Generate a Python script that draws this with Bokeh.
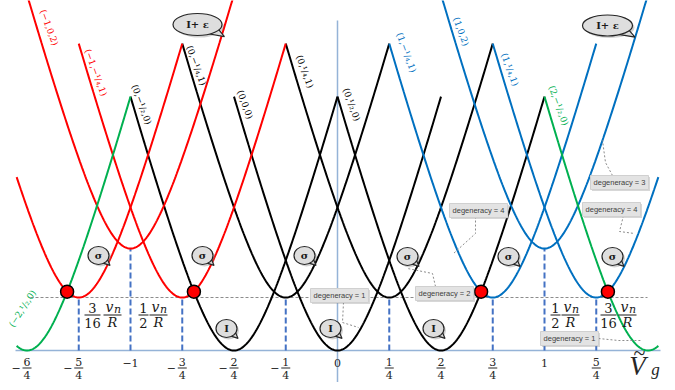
import numpy as np
from bokeh.plotting import figure
from bokeh.models import Range1d
from bokeh.core.properties import value
from bokeh.embed import file_html
from bokeh.resources import INLINE

# ---------------- data ----------------
state_labels = ["(−2,¹/₂,0)", "", "(−1,0,2)", "(−1,−¹/₄,1)", "(0,−¹/₂,0)",
                "(0,−¹/₄,1)", "(0,0,0)", "(0,¹/₄,1)", "(0,¹/₂,0)",
                "(1,−¹/₄,1)", "(1,0,2)", "(1,¹/₄,1)", "(2,−¹/₂,0)"]
state_centers = [-1.5, -1.25, -1.0, -0.75, -0.5, -0.25, 0.0, 0.25, 0.5, 0.75, 1.0, 1.25, 1.5]
state_offsets = [0, 53, 102, 53, 0, 53, 0, 53, 0, 53, 102, 53, 0]
state_family = ["green", "red", "red", "red", "black", "black", "black",
                "black", "black", "blue", "blue", "blue", "green"]
curve_half_span = 0.5
vg_visible = (-1.55, 1.55)

tick_values = [-1.5, -1.25, -1.0, -0.75, -0.5, -0.25, 0.0, 0.25, 0.5, 0.75, 1.0, 1.25]
tick_labels = ["−6/4", "−5/4", "−1", "−3/4", "−2/4", "−1/4", "0", "1/4", "2/4", "3/4", "1", "5/4"]

drop_lines = [-1.25, -1.0, -0.75, -0.25, 0.25, 0.75, 1.0, 1.25]
crossing_pairs = [(0, 1), (4, 3), (8, 9), (12, 11)]

gap_labels = [("3", "16"), ("1", "2"), ("1", "2"), ("3", "16")]
degeneracy_texts = ["degeneracy = 1", "degeneracy = 2", "degeneracy = 4",
                    "degeneracy = 3", "degeneracy = 4", "degeneracy = 1"]

# ---------------- layout helpers (picture pixels -> data) ----------------
X0_PX, SX, Y0_PX = 337.0, 207.0, 350.0
W, H = 667, 382
def px(xp): return (xp - X0_PX) / SX
def py(yp): return Y0_PX - yp

COL = {"red": "#FF0000", "blue": "#0070C0", "black": "#000000", "green": "#00B050"}
SERIF = value("DejaVu Serif")

def energy(x, c, o):
    u = (x - c) / 0.2
    return o + 150.0 * (np.sqrt(1 + u * u) - 1)

p = figure(width=W, height=H, output_backend="svg", toolbar_location=None,
           x_range=Range1d(px(0), px(W)), y_range=Range1d(py(H), py(0)),
           min_border=0, background_fill_color="white", border_fill_color="white")
p.axis.visible = False
p.grid.visible = False
p.outline_line_color = None

# axes lines
p.line([px(15), px(660)], [0, 0], line_color="#95B3D7", line_width=1.5)
p.line([0, 0], [py(390), py(20)], line_color="#95B3D7", line_width=1.5)

# horizontal dashed level
p.line([px(30), px(647)], [53, 53], line_color="#8c8c8c", line_width=1, line_dash="3 2")

# vertical dashed drop lines
for xd in drop_lines:
    top = state_offsets[state_centers.index(xd)]
    p.line([xd, xd], [0, top], line_color="#4472C4", line_width=2, line_dash="6 3")

# curves
order = ["black", "red", "blue", "green"]
for fam in order:
    for c, o, f in zip(state_centers, state_offsets, state_family):
        if f != fam:
            continue
        lo = max(c - curve_half_span, vg_visible[0])
        hi = min(c + curve_half_span, vg_visible[1])
        xs = np.linspace(lo, hi, 200)
        p.line(xs, energy(xs, c, o), line_color=COL[f], line_width=2)

# crossing points
def cross(i, j):
    a, b = sorted([state_centers[i], state_centers[j]])
    g = lambda x: energy(x, state_centers[i], state_offsets[i]) - energy(x, state_centers[j], state_offsets[j])
    for _ in range(60):
        m = 0.5 * (a + b)
        if np.sign(g(a)) == np.sign(g(m)):
            a = m
        else:
            b = m
    xm = 0.5 * (a + b)
    return xm, energy(xm, state_centers[i], state_offsets[i])

cx, cy = zip(*[cross(i, j) for i, j in crossing_pairs])
p.scatter(list(cx), list(cy), size=13, fill_color="#FF0000", line_color="#000000", line_width=1.5)

# curve labels (rotated along left branches)
label_off = {2: (22, 33), 3: (17, 29), 4: (11, 8), 5: (14, 22), 6: (11, 8), 7: (19, 28),
             8: (14, 8), 9: (17, 9), 10: (20, 37), 11: (17, 26), 12: (14, 9)}
for i, (dxp, dyp) in label_off.items():
    c, o = state_centers[i], state_offsets[i]
    lx = c - curve_half_span
    ly = energy(lx, c, o)
    p.text([lx + dxp / SX], [ly - dyp], text=[state_labels[i]], angle=-1.22,
           text_color=COL[state_family[i]], text_font=SERIF, text_font_size="9px",
           text_align="center", text_baseline="middle")
p.text([px(22)], [py(308)], text=[state_labels[0]], angle=1.0,
       text_color=COL["green"], text_font=SERIF, text_font_size="9px",
       text_align="center", text_baseline="middle")

# tick labels
for t, lab in zip(tick_values, tick_labels):
    neg = lab.startswith("−")
    body = lab[1:] if neg else lab
    if "/" in body:
        num, den = body.split("/")
        p.text([t], [py(361)], text=[num], text_font=SERIF, text_font_size="11px",
               text_color="#262626", text_align="center", text_baseline="middle")
        p.text([t], [py(374)], text=[den], text_font=SERIF, text_font_size="11px",
               text_color="#262626", text_align="center", text_baseline="middle")
        p.line([t - 4.5 / SX, t + 4.5 / SX], [py(367.5)] * 2, line_color="#262626", line_width=1)
        if neg:
            p.text([t - 11 / SX], [py(367.5)], text=["−"], text_font=SERIF, text_font_size="11px",
                   text_color="#262626", text_align="center", text_baseline="middle")
    else:
        p.text([t], [py(362.5)], text=[lab], text_font=SERIF, text_font_size="11px",
               text_color="#262626", text_align="center", text_baseline="middle")

# V_g axis title
p.text([px(637)], [py(365)], text=["V"], text_font=value("Liberation Serif"), text_font_style="italic",
       text_font_size="27px", text_color="#262626", text_align="center", text_baseline="middle")
p.text([px(639)], [py(352)], text=["~"], text_font=value("Liberation Serif"),
       text_font_size="22px", text_color="#262626", text_align="center", text_baseline="middle")
p.text([px(655)], [py(369)], text=["g"], text_font=value("Liberation Serif"), text_font_style="italic",
       text_font_size="17px", text_color="#262626", text_align="center", text_baseline="middle")

# gap annotations  (num/den  v_n/R)
gap_pos = [(92, 112), (143, 158), (555, 570), (608, 627)]
for (num, den), (fx, vx) in zip(gap_labels, gap_pos):
    for txt, yy in ((num, 307), (den, 322)):
        p.text([px(fx)], [py(yy)], text=[txt], text_font=SERIF, text_font_size="13px",
               text_color="#1a1a1a", text_align="center", text_baseline="middle")
    hw = 8 if len(den) > 1 else 5
    p.line([px(fx - hw), px(fx + hw)], [py(314.5)] * 2, line_color="#1a1a1a", line_width=1)
    p.text([px(vx - 3)], [py(306)], text=["v"], text_font=SERIF, text_font_style="italic",
           text_font_size="14px", text_color="#1a1a1a", text_align="center", text_baseline="middle")
    p.text([px(vx + 5)], [py(309)], text=["n"], text_font=SERIF, text_font_style="italic",
           text_font_size="11px", text_color="#1a1a1a", text_align="center", text_baseline="middle")
    p.text([px(vx)], [py(322)], text=["R"], text_font=SERIF, text_font_style="italic",
           text_font_size="13px", text_color="#1a1a1a", text_align="center", text_baseline="middle")
    p.line([px(vx - 9), px(vx + 9)], [py(314.5)] * 2, line_color="#1a1a1a", line_width=1)

# speech bubbles
def bubble(xc, yc, w, h, txt, fs):
    tail = [(w * 0.22, h * 0.42), (w * 0.55, h * 0.55), (w * 0.42, h * 0.2)]
    p.ellipse([px(xc + 2)], [py(yc + 2)], width=w, height=h, width_units="screen",
              height_units="screen", fill_color="#7f7f7f", fill_alpha=0.35, line_color=None)
    p.patch([px(xc + a) for a, b in tail], [py(yc + b) for a, b in tail],
            fill_color="#d9d9d9", line_color="#262626", line_width=1.2)
    p.ellipse([px(xc)], [py(yc)], width=w, height=h, width_units="screen",
              height_units="screen", fill_color="#dedede", line_color="#262626", line_width=1.2)
    p.text([px(xc)], [py(yc)], text=[txt], text_font=SERIF, text_font_style="bold",
           text_font_size=fs, text_color="#1a1a1a", text_align="center", text_baseline="middle")

for xb in (98, 202, 304):
    bubble(xb, 255, 21, 18, "σ", "10px")
for xb in (407, 508, 612):
    bubble(xb, 256, 21, 18, "σ", "10px")
for xb in (226, 330, 433):
    bubble(xb, 328, 21, 18, "I", "10px")
bubble(197, 24, 49, 22, "I+ ε", "10px")
bubble(607, 25, 50, 21, "I+ ε", "10px")

# degeneracy boxes with dashed connectors
deg_pos = [(339, 295), (444, 293), (478, 210), (619, 182), (611, 209), (569, 338)]
deg_conn = [[(343, 302), (342, 322), (358, 327)],
            [(435, 286), (432, 273), (407, 268)],
            [(475, 216), (475, 233), (453, 253)],
            [(612, 175), (605, 162), (602, 140)],
            [(623, 215), (619, 231), (634, 233)],
            [(598, 338), (618, 340), (640, 340)]]
for (bx, by), conn in zip(deg_pos, deg_conn):
    p.line([px(a) for a, b in conn], [py(b) for a, b in conn], line_color="#8c8c8c",
           line_width=1, line_dash="2 2")
for (bx, by), txt in zip(deg_pos, degeneracy_texts):
    p.rect([px(bx + 1.5)], [py(by + 1.5)], width=58, height=14, width_units="screen",
           height_units="screen", fill_color="#8c8c8c", fill_alpha=0.35, line_color=None)
    p.rect([px(bx)], [py(by)], width=58, height=14, width_units="screen",
           height_units="screen", fill_color="#e3e3e3", line_color="#d0d0d0")
    p.text([px(bx)], [py(by)], text=[txt], text_font=value("Liberation Sans"),
           text_font_size="7.5px", text_color="#404040", text_align="center", text_baseline="middle")

open("out.html", "w").write(file_html(p, INLINE))
